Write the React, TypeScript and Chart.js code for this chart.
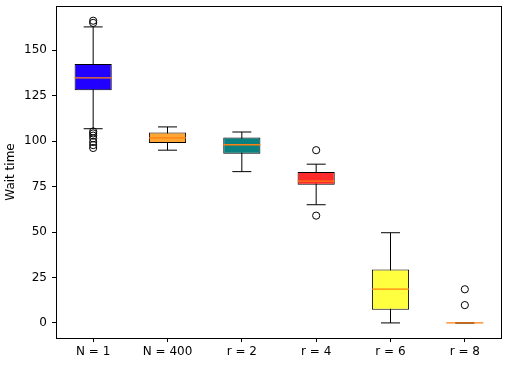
import React, { useEffect, useRef } from 'react';
import { Chart, registerables } from 'chart.js';

Chart.register(...registerables);

const categories = ['N = 1', 'N = 400', 'r = 2', 'r = 4', 'r = 6', 'r = 8'];
const whiskerLow = [106.8, 95, 83.2, 65, 0, 0];
const q1 = [128, 98.9, 93, 76, 7.3, 0];
const median = [134.8, 101.8, 98, 78, 18.6, 0];
const q3 = [142.4, 104.7, 102, 83, 29.4, 0];
const whiskerHigh = [162.8, 107.8, 105, 87.3, 49.6, 0];
const outliers: number[][] = [
  [166.2, 165, 105.3, 104.2, 103, 101.5, 99.5, 97.8, 96.2],
  [],
  [],
  [95, 59],
  [],
  [18.5, 9.8],
];
const boxColors = ['#2200ff', '#ffa533', '#0a8080', '#ff2a2a', '#ffff40', '#ffa533'];
const yTicks = [0, 25, 50, 75, 100, 125, 150];
const yMin = -8.3;
const yMax = 174.3;

const framePlugin = {
  id: 'frame',
  afterDraw(chart: any) {
    const { ctx, chartArea } = chart;
    ctx.save();
    ctx.strokeStyle = '#000';
    ctx.lineWidth = 1;
    ctx.strokeRect(
      Math.round(chartArea.left) + 0.5,
      Math.round(chartArea.top) + 0.5,
      Math.round(chartArea.right - chartArea.left) - 1,
      Math.round(chartArea.bottom - chartArea.top)
    );
    ctx.restore();
  },
};

function zeroPad(scale: any) {
  scale.paddingLeft = 0;
  scale.paddingRight = 0;
  scale.paddingTop = 0;
  scale.paddingBottom = 0;
}

export default function App() {
  const ref = useRef<HTMLCanvasElement | null>(null);

  useEffect(() => {
    document.body.style.margin = '0';
    const canvas = ref.current;
    if (!canvas) return;

    const whiskerSets = categories.map((c, i) => ({
      type: 'line' as const,
      data: [
        { x: c, y: whiskerLow[i] },
        { x: c, y: whiskerHigh[i] },
      ],
      borderColor: '#000',
      borderWidth: 1,
      pointRadius: 0,
      showLine: true,
      order: 5,
    }));

    const capData: any[] = [];
    categories.forEach((c, i) => {
      capData.push({ x: c, y: whiskerLow[i] });
      capData.push({ x: c, y: whiskerHigh[i] });
    });

    const outlierData: any[] = [];
    outliers.forEach((arr, i) => arr.forEach((v) => outlierData.push({ x: categories[i], y: v })));

    const font = { family: 'DejaVu Sans', size: 12 };

    const chart = new Chart(canvas, {
      type: 'bar',
      data: {
        labels: categories,
        datasets: [
          ...whiskerSets,
          {
            type: 'bar',
            data: categories.map((_, i) => [q1[i], q3[i]]),
            backgroundColor: boxColors,
            borderColor: '#000',
            borderWidth: 1,
            borderSkipped: false,
            categoryPercentage: 1,
            barPercentage: 0.5,
            order: 4,
          } as any,
          {
            type: 'line',
            data: capData,
            showLine: false,
            pointStyle: 'line',
            pointRadius: 9.5,
            pointBorderColor: '#000',
            pointBorderWidth: 1,
            borderColor: '#000',
            order: 3,
          } as any,
          {
            type: 'line',
            data: categories.map((c, i) => ({ x: c, y: median[i] })),
            showLine: false,
            pointStyle: 'line',
            pointRadius: 18.5,
            pointBorderColor: '#ff7f0e',
            pointBorderWidth: 1.3,
            borderColor: '#ff7f0e',
            order: 2,
          } as any,
          {
            type: 'line',
            data: outlierData,
            showLine: false,
            pointStyle: 'circle',
            pointRadius: 3.6,
            pointBackgroundColor: 'rgba(255,255,255,0)',
            pointBorderColor: '#000',
            pointBorderWidth: 1,
            order: 1,
          } as any,
        ],
      },
      options: {
        animation: false,
        responsive: false,
        devicePixelRatio: 1,
        layout: { autoPadding: false, padding: { left: 0, right: 6, top: 6, bottom: 0 } },
        plugins: {
          legend: { display: false },
          tooltip: { enabled: false },
        },
        scales: {
          x: {
            type: 'category',
            offset: true,
            grid: {
              display: true,
              offset: false,
              drawOnChartArea: false,
              drawTicks: true,
              tickLength: 4,
              color: '#000',
            },
            border: { display: false },
            ticks: {
              color: '#000',
              font,
              padding: 3,
              maxRotation: 0,
            },
            afterFit(scale: any) {
              scale.height = 31;
              zeroPad(scale);
            },
          },
          y: {
            type: 'linear',
            min: yMin,
            max: yMax,
            grid: {
              display: true,
              drawOnChartArea: false,
              drawTicks: true,
              tickLength: 4,
              color: '#000',
            },
            border: { display: false },
            ticks: {
              color: '#000',
              font,
              padding: 5,
              callback: (v: any) => String(v),
            },
            afterBuildTicks(axis: any) {
              axis.ticks = yTicks.map((v) => ({ value: v }));
            },
            title: {
              display: true,
              text: 'Wait time',
              color: '#000',
              font,
              padding: { top: 4, bottom: 4 },
            },
            afterFit(scale: any) {
              scale.width = 56;
              zeroPad(scale);
            },
          },
        },
      } as any,
      plugins: [framePlugin],
    });

    return () => chart.destroy();
  }, []);

  return (
    <div style={{ width: 508, height: 369 }}>
      <canvas ref={ref} width={508} height={369} style={{ display: 'block' }} />
    </div>
  );
}
